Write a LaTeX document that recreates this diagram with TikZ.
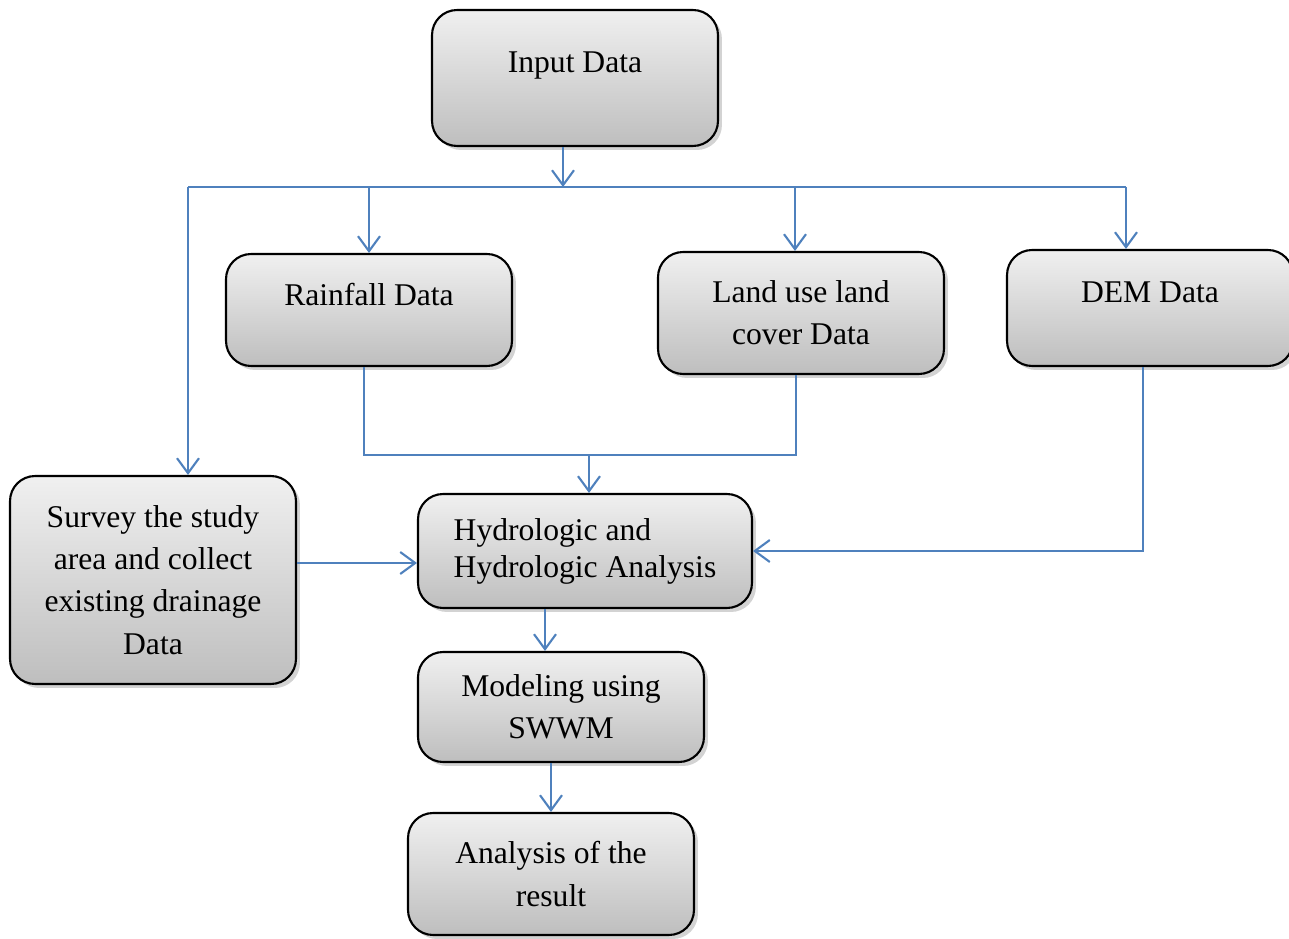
\documentclass[tikz,border=0pt]{standalone}
\usepackage{fontspec}
\setmainfont{Liberation Serif}
\usepackage{xcolor}
\usetikzlibrary{arrows.meta,shadows,calc}

\definecolor{flowblue}{RGB}{79,129,189}
\definecolor{boxtop}{RGB}{240,240,240}
\definecolor{boxbot}{RGB}{190,190,190}

\tikzset{
  box/.style={draw=black, line width=1.2pt, rounded corners=0.5cm,
    top color=boxtop, bottom color=boxbot, align=center,
    minimum width=5.72cm, inner sep=2pt,
    drop shadow={opacity=0.35, shadow xshift=0.08cm, shadow yshift=-0.08cm}},
  topline/.style={text depth=0.62cm},
  flow/.style={flowblue, line width=1.2pt, -{Straight Barb[length=0.3cm,width=0.44cm,line width=1.2pt]}},
  link/.style={flowblue, line width=1.2pt}
}

\begin{document}
\begin{tikzpicture}[x=0.02cm,y=-0.02cm,font=\fontsize{18}{24}\selectfont]

\useasboundingbox (0,0) rectangle (1289,939);

% ---------- boxes ----------
\node[box,topline,minimum height=2.72cm] (input) at (575,78) {Input Data};

\node[box,topline,minimum height=2.24cm] (rain) at (369,310) {Rainfall Data};
\node[box,minimum height=2.44cm] (land) at (801,313) {Land use land\\cover Data};
\node[box,topline,minimum height=2.32cm] (dem) at (1150,308) {DEM Data};

\node[box,minimum height=4.16cm] (survey) at (153,580)
  {Survey the study\\area and collect\\existing drainage\\Data};
\node[box,align=left,minimum width=6.68cm,minimum height=2.28cm] (hydro) at (585,551)
  {Hydrologic and\\[-3pt]Hydrologic Analysis};
\node[box,minimum height=2.2cm] (model) at (561,707) {Modeling using\\SWWM};
\node[box,minimum height=2.44cm] (result) at (551,874) {Analysis of the\\result};

% ---------- bus from input ----------
\coordinate (busL) at (188,187);
\coordinate (busR) at (1126,187);
\coordinate (busM) at (563,187);
\coordinate (join) at (589,455);
\coordinate (hydroin) at ([yshift=-0.24cm]hydro.west);

\draw[flow] (input.south -| busM) -- (busM);
\draw[link] (busL) -- (busR);

\draw[flow] (busL) -- (busL |- survey.north);
\draw[flow] (rain.north |- busL) -- (rain.north);
\draw[flow] ([xshift=-0.12cm]land.north |- busL) -- ([xshift=-0.12cm]land.north);
\draw[flow] (busR) -- (busR |- dem.north);

% ---------- into analysis ----------
\draw[link] ([xshift=-0.1cm]rain.south) -- ([xshift=-0.1cm]rain.south |- join)
  -- ([xshift=-0.1cm]land.south |- join) -- ([xshift=-0.1cm]land.south);
\draw[flow] (join) -- (join |- hydro.north);

\draw[flow] ([xshift=-0.14cm]dem.south) -- ([xshift=-0.14cm]dem.south |- hydro.east) -- (hydro.east);
\draw[flow] (survey.east |- hydroin) -- (hydroin);

\draw[flow] ([xshift=-0.8cm]hydro.south) -- ([xshift=-0.8cm]hydro.south |- model.north);
\draw[flow] (result.north |- model.south) -- (result.north);

\end{tikzpicture}
\end{document}
